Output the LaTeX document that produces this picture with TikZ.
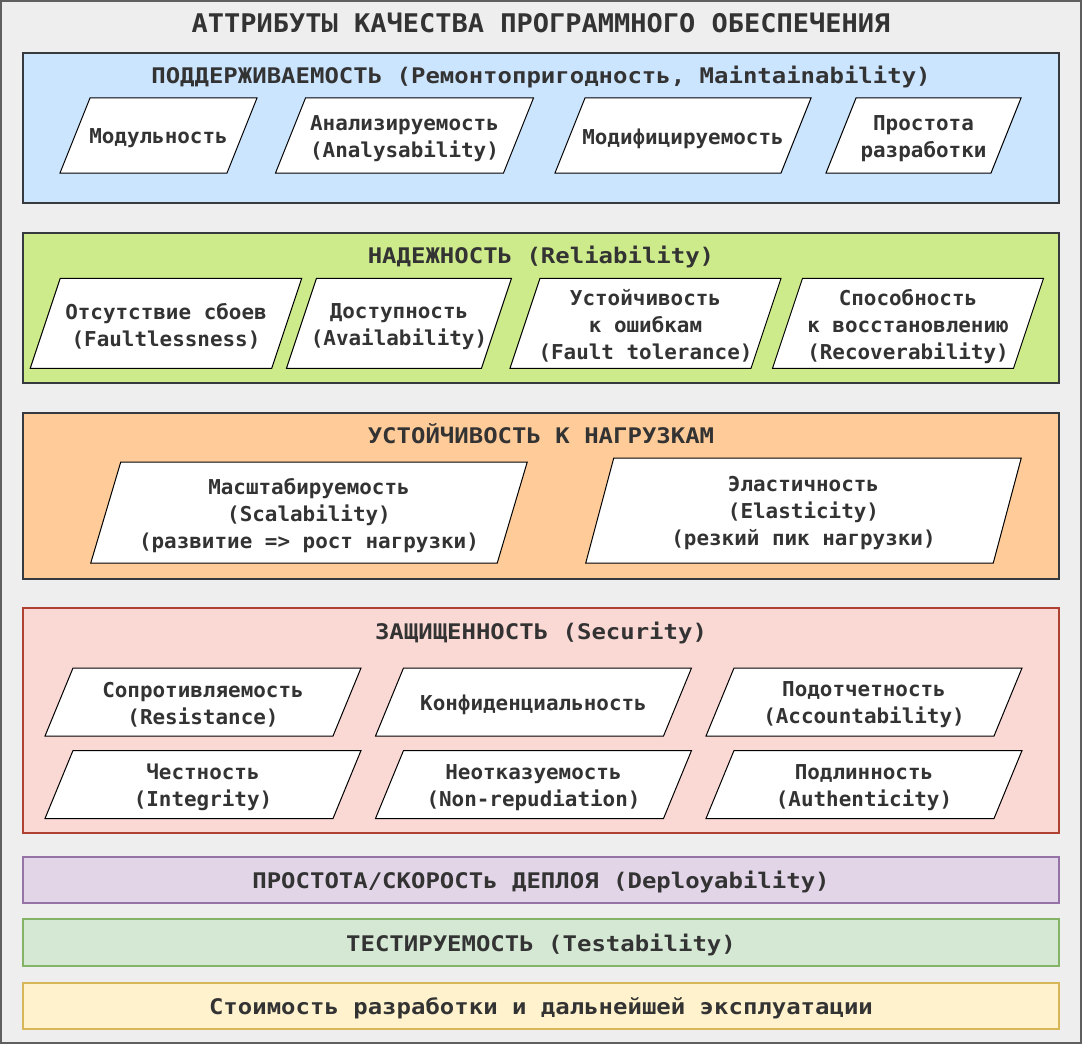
\documentclass[tikz,border=0pt]{standalone}
\usepackage{fontspec}
\setmainfont{DejaVu Sans Mono}
\newfontfamily\hdfont{DejaVu Sans Mono}[FakeStretch=1.115]
\newfontfamily\ttlfont{DejaVu Sans Mono}[FakeStretch=1.05]
\newfontfamily\pgfont{DejaVu Sans Mono}[FakeStretch=1.02]
\definecolor{bgc}{HTML}{EEEEEE}
\definecolor{outerc}{HTML}{5F5F5F}
\definecolor{darkc}{HTML}{36393D}
\definecolor{txtc}{HTML}{333333}
\definecolor{bluef}{HTML}{CCE5FF}
\definecolor{greenf}{HTML}{CDEB8B}
\definecolor{orangef}{HTML}{FFCC99}
\definecolor{redf}{HTML}{FAD9D5}
\definecolor{redd}{HTML}{AE4132}
\definecolor{purplef}{HTML}{E1D5E7}
\definecolor{purpled}{HTML}{9673A6}
\definecolor{lgreenf}{HTML}{D5E8D4}
\definecolor{lgreend}{HTML}{82B366}
\definecolor{yellowf}{HTML}{FFF2CC}
\definecolor{yellowd}{HTML}{D6B656}
% name, cx, cy, w, h, slant, text
\newcommand\mypgram[7]{%
  \draw[pgbox] ({#2-#4/2+#6/2},{#3-#5/2}) -- ({#2+#4/2+#6/2},{#3-#5/2})
    -- ({#2+#4/2-#6/2},{#3+#5/2}) -- ({#2-#4/2-#6/2},{#3+#5/2}) -- cycle;
  \node[pgtext] (#1) at (#2,{#3+3}) {#7};
}
\begin{document}
\begin{tikzpicture}[x=1pt,y=-1pt,
  sec/.style={line width=2.2pt, minimum width=1036pt, inner sep=0pt},
  hdr/.style={anchor=base, text=txtc, inner sep=0pt, font=\hdfont\bfseries\fontsize{21.5}{26}\selectfont},
  ttl/.style={anchor=base, text=txtc, inner sep=0pt, font=\ttlfont\bfseries\fontsize{25.7}{30}\selectfont},
  pgbox/.style={draw=black, fill=white, line width=1pt, line join=miter},
  pgtext/.style={align=center, text=txtc, inner sep=0pt, font=\pgfont\bfseries\fontsize{20.5}{27}\selectfont}
]
\path[fill=white] (0,0) rectangle (1083,1046);
\useasboundingbox (0,0) rectangle (1083,1046);
\node[draw=outerc, fill=bgc, line width=1.5pt, minimum width=1080.4pt, minimum height=1042pt, inner sep=0pt] (outer) at (541,521.8) {};
\node[ttl] (title) at (541,32.7) {АТТРИБУТЫ КАЧЕСТВА ПРОГРАММНОГО ОБЕСПЕЧЕНИЯ};

% Maintainability
\node[sec, draw=darkc, fill=bluef, minimum height=150.6pt] (maint) at (541,128) {};
\node[hdr] (mainth) at (541,83.3) {ПОДДЕРЖИВАЕМОСТЬ (Ремонтопригодность, Maintainability)};
\mypgram{m1}{158.5}{135.5}{167}{75}{30}{Модульность}
\mypgram{m2}{404.5}{135.5}{228}{75}{30}{Анализируемость\\(Analysability)}
\mypgram{m3}{683}{135.5}{226}{75}{30}{Модифицируемость}
\mypgram{m4}{923.5}{135.5}{165}{75}{30}{Простота\\разработки}

% Reliability
\node[sec, draw=darkc, fill=greenf, minimum height=150.6pt] (rel) at (541,308) {};
\node[hdr] (relh) at (541,263.3) {НАДЕЖНОСТЬ (Reliability)};
\mypgram{r1}{166}{323.3}{241.5}{90}{30}{Отсутствие сбоев\\(Faultlessness)}
\mypgram{r2}{399}{323.3}{195}{90}{30}{Доступность\\(Availability)}
\mypgram{r3}{645.5}{323.3}{241}{90}{30}{Устойчивость\\к ошибкам\\(Fault tolerance)}
\mypgram{r4}{908}{323.3}{241}{90}{30}{Способность\\к восстановлению\\(Recoverability)}

% Load resilience
\node[sec, draw=darkc, fill=orangef, minimum height=165.7pt] (load) at (541,496.2) {};
\node[hdr] (loadh) at (541,443.5) {УСТОЙЧИВОСТЬ К НАГРУЗКАМ};
\mypgram{l1}{309}{512.5}{406.5}{101}{30}{Масштабируемость\\(Scalability)\\(развитие => рост нагрузки)}
\mypgram{l2}{803.5}{510.5}{407.5}{105}{28}{Эластичность\\(Elasticity)\\(резкий пик нагрузки)}

% Security
\node[sec, draw=redd, fill=redf, minimum height=225pt] (secu) at (541,720.8) {};
\node[hdr] (secuh) at (541,639.5) {ЗАЩИЩЕННОСТЬ (Security)};
\mypgram{s1}{203}{702}{288}{68}{28}{Сопротивляемость\\(Resistance)}
\mypgram{s2}{533.5}{702}{288}{68}{28}{Конфиденциальность}
\mypgram{s3}{864}{702}{288}{68}{28}{Подотчетность\\(Accountability)}
\mypgram{s4}{203}{784.5}{288}{68}{28}{Честность\\(Integrity)}
\mypgram{s5}{533.5}{784.5}{288}{68}{28}{Неотказуемость\\(Non-repudiation)}
\mypgram{s6}{864}{784.5}{288}{68}{28}{Подлинность\\(Authenticity)}

% Bars
\node[sec, draw=purpled, fill=purplef, minimum height=46pt] (deploy) at (541,879.7) {};
\node[hdr] (deployh) at (541,888) {ПРОСТОТА/СКОРОСТь ДЕПЛОЯ (Deployability)};
\node[sec, draw=lgreend, fill=lgreenf, minimum height=46.7pt] (test) at (541,942.7) {};
\node[hdr] (testh) at (541,951) {ТЕСТИРУЕМОСТЬ (Testability)};
\node[sec, draw=yellowd, fill=yellowf, minimum height=46.3pt] (cost) at (541,1005.9) {};
\node[hdr] (costh) at (541,1014.5) {Стоимость разработки и дальнейшей эксплуатации};
\end{tikzpicture}
\end{document}
